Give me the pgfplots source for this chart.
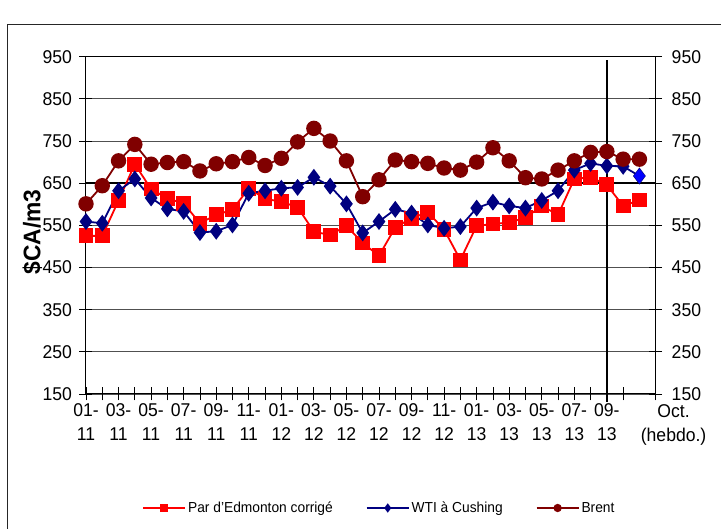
\documentclass[border=0pt]{standalone}
\usepackage{pgfplots}
\pgfplotsset{compat=1.18}
\usepackage{pgfplotstable}
\usepackage{fontspec}
\setmainfont{Liberation Sans}[FakeStretch=0.95]
\definecolor{edm}{HTML}{FF0000}
\definecolor{wti}{HTML}{000080}
\definecolor{brent}{HTML}{800000}
\definecolor{wtilast}{HTML}{0000FF}
\definecolor{gridc}{HTML}{505050}

\pgfplotstableread{
k edm wti brent
0 525 559 601
1 525 555 644
2 609 632 703
3 695 660 742
4 636 615 695
5 614 589 699
6 602 583 701
7 555 533 679
8 575 536 696
9 587 551 701
10 638 626 711
11 613 632 692
12 606 638 709
13 593 640 748
14 535 664 780
15 527 643 750
16 549 601 703
17 508 532 618
18 478 559 658
19 545 588 705
20 567 579 701
21 581 551 697
22 540 543 686
23 468 547 681
24 549 591 700
25 553 605 734
26 557 596 703
27 568 591 663
28 596 609 660
29 575 632 681
30 660 681 703
31 664 697 723
32 646 691 725
33 596 690 707
34 610 667 707
}\data

\pgfplotstableread{
k wti
34 667
}\wtilast

\begin{document}
\begin{tikzpicture}
\begin{axis}[
  name=ax,
  at={(0pt,0pt)}, anchor=south west, scale only axis,
  width=569.7pt, height=337.3pt,
  xmin=0, xmax=35, ymin=150, ymax=950,
  clip=false,
  axis line style={black, line width=1pt},
  ytick={150,250,...,950},
  ytick pos=left,
  tick align=center,
  major tick length=13pt, minor tick length=13pt,
  ymajorgrids, grid style={gridc, line width=0.8pt},
  xtick={0,2,...,32},
  minor xtick={1,3,...,35},
  xtick pos=bottom,
  xticklabels={01-\\11,03-\\11,05-\\11,07-\\11,09-\\11,11-\\11,01-\\12,03-\\12,05-\\12,07-\\12,09-\\12,11-\\12,01-\\13,03-\\13,05-\\13,07-\\13,09-\\13},
  xticklabel style={align=center, font=\fontsize{18.5}{24}\selectfont, yshift=0pt},
  tick style={line width=0.8pt, black},
  yticklabel style={font=\fontsize{18.5}{21}\selectfont, xshift=-4pt},
  /pgf/number format/assume math mode=true,
  ylabel={\textbf{\$CA/m3}},
  ylabel style={at={(axis description cs:-0.094,0.48)}, anchor=center, font=\fontsize{24}{26}\selectfont},
  legend columns=3,
  legend style={draw=none, fill=none, at={(axis description cs:0.515,-0.338)}, anchor=center,
    font=\fontsize{14.5}{17}\selectfont, /tikz/every even column/.append style={column sep=31pt}},
  legend image code/.code={\draw[mark repeat=2,mark phase=2,#1,mark size=3.2pt] plot coordinates {(0pt,0pt) (21pt,0pt) (42pt,0pt)};},
]
\draw[line width=2pt, black] (axis cs:0,650) -- (axis cs:35,650);
\addplot[edm, line width=1.8pt, mark=square*, mark size=6.5pt, mark options={solid, fill=edm, draw=edm}] table[x=k, y=edm] {\data};
\addlegendentry{Par d'Edmonton corrigé}
\addplot[wti, line width=1.8pt, mark=diamond*, mark size=7pt, mark options={solid, fill=wti, draw=wti}] table[x=k, y=wti] {\data};
\addlegendentry{WTI à Cushing}
\addplot[brent, line width=1.8pt, mark=*, mark size=6.8pt, mark options={solid, fill=brent, draw=brent}] table[x=k, y=brent] {\data};
\addlegendentry{Brent}
\addplot[only marks, mark=diamond*, mark size=7pt, mark options={fill=wtilast, draw=wtilast}, forget plot] table[x=k, y=wti] {\wtilast};
\draw[line width=1.6pt, black] (axis cs:32,942) -- (axis cs:32,130);
\node[align=center, font=\fontsize{18.5}{24}\selectfont, anchor=north] at (axis cs:36.1,134) {Oct.\\(hebdo.)};
\end{axis}
\begin{axis}[
  at={(0pt,0pt)}, anchor=south west, scale only axis,
  width=569.7pt, height=337.3pt,
  xmin=0, xmax=35, ymin=150, ymax=950,
  hide x axis,
  axis y line*=right,
  axis line style={black, line width=1pt},
  ytick={150,250,...,950},
  tick align=center, major tick length=13pt,
  tick style={line width=0.8pt, black},
  yticklabel style={font=\fontsize{18.5}{21}\selectfont, xshift=6pt},
  /pgf/number format/assume math mode=true,
]
\end{axis}
\pgfresetboundingbox
\path[use as bounding box] ([shift={(-86pt,-135pt)}]ax.south west) rectangle ([shift={(635pt,394pt)}]ax.south west);
\draw[line width=1pt, black!85] ([shift={(-78pt,-160pt)}]ax.south west) rectangle ([shift={(680pt,369pt)}]ax.south west);
\end{tikzpicture}
\end{document}
